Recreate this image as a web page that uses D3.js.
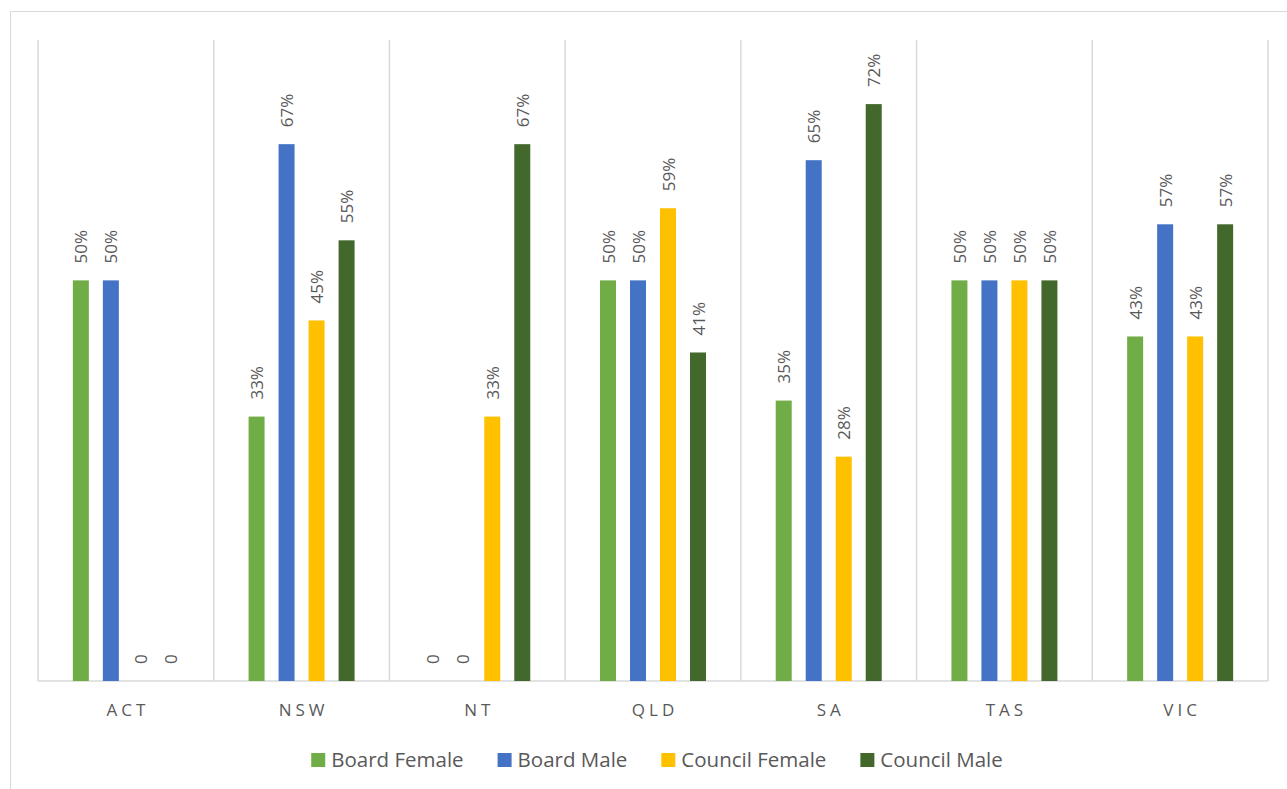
<!DOCTYPE html>
<meta charset="utf-8">

<head>
    <style>
        body {
            margin: 0;
            background: #fff;
        }

        text {
            font-family: "Open Sans", Lato, sans-serif;
            fill: #595959;
        }

        .grid {
            stroke: #d9d9d9;
            stroke-width: 1.5;
        }
    </style>
    <script src="https://d3js.org/d3.v7.min.js"></script>
</head>

<body>
    <script>
        const width = 1287
        const height = 789

        const categories = ["ACT", "NSW", "NT", "QLD", "SA", "TAS", "VIC"]
        const series = ["Board Female", "Board Male", "Council Female", "Council Male"]
        const colors = ["#70ad47", "#4472c4", "#ffc000", "#43682b"]

        const boardFemale = [0.50, 0.33, 0, 0.50, 0.35, 0.50, 0.43]
        const boardMale = [0.50, 0.67, 0, 0.50, 0.65, 0.50, 0.57]
        const councilFemale = [0, 0.45, 0.33, 0.59, 0.28, 0.50, 0.43]
        const councilMale = [0, 0.55, 0.67, 0.41, 0.72, 0.50, 0.57]
        const values = [boardFemale, boardMale, councilFemale, councilMale]

        const plot = { left: 38, right: 1268, top: 40, bottom: 681 }

        const svg = d3.select("body").append("svg")
            .attr("width", width)
            .attr("height", height)

        // chart border
        svg.append("rect")
            .attr("x", 10.5)
            .attr("y", 11.5)
            .attr("width", width)
            .attr("height", height)
            .attr("fill", "none")
            .attr("stroke", "#d9d9d9")

        const xScale = d3.scaleBand()
            .domain(categories)
            .range([plot.left, plot.right])

        const groupWidth = 120
        const inner = d3.scaleBand()
            .domain(series)
            .range([0, groupWidth])
            .paddingInner(14 / 30)
            .paddingOuter(7 / 30)

        const yScale = d3.scaleLinear()
            .domain([0, 0.8])
            .range([plot.bottom, plot.top])

        // vertical separators
        const bounds = categories.map(c => xScale(c)).concat([plot.right])
        svg.selectAll(".sep")
            .data(bounds)
            .enter()
            .append("line")
            .attr("class", "grid")
            .attr("x1", d => d)
            .attr("x2", d => d)
            .attr("y1", plot.top)
            .attr("y2", plot.bottom)

        svg.append("line")
            .attr("class", "grid")
            .attr("x1", plot.left)
            .attr("x2", plot.right)
            .attr("y1", plot.bottom)
            .attr("y2", plot.bottom)

        const rows = []
        categories.forEach((c, i) => {
            series.forEach((s, j) => {
                rows.push({ cat: c, s: s, j: j, v: values[j][i] })
            })
        })

        const barX = d => xScale(d.cat) + (xScale.bandwidth() - groupWidth) / 2 + inner(d.s)

        svg.selectAll(".bar")
            .data(rows.filter(d => d.v > 0))
            .enter()
            .append("rect")
            .attr("x", barX)
            .attr("y", d => yScale(d.v))
            .attr("width", inner.bandwidth())
            .attr("height", d => plot.bottom - yScale(d.v))
            .attr("fill", d => colors[d.j])

        svg.selectAll(".lbl")
            .data(rows)
            .enter()
            .append("text")
            .attr("transform", d => {
                const cx = barX(d) + inner.bandwidth() / 2
                const cy = yScale(d.v) - 17
                return "translate(" + cx + "," + cy + ") rotate(-90)"
            })
            .attr("dominant-baseline", "central")
            .style("font-size", "17px")
            .text(d => d.v > 0 ? Math.round(d.v * 100) + "%" : "0")

        svg.selectAll(".cat")
            .data(categories)
            .enter()
            .append("text")
            .attr("x", d => xScale(d) + xScale.bandwidth() / 2 + 2)
            .attr("y", 716)
            .attr("text-anchor", "middle")
            .style("font-size", "17px")
            .style("letter-spacing", "4px")
            .text(d => d)

        // legend
        const legend = svg.append("g")
        let lx = 0
        series.forEach((s, j) => {
            const g = legend.append("g").attr("transform", "translate(" + lx + ",0)")
            g.append("rect")
                .attr("x", 0)
                .attr("y", 753)
                .attr("width", 14)
                .attr("height", 14)
                .attr("fill", colors[j])
            const t = g.append("text")
                .attr("x", 20)
                .attr("y", 767)
                .style("font-size", "20.5px")
                .text(s)
            lx += 20 + t.node().getComputedTextLength() + 34
        })
        const legendWidth = lx - 34
        legend.attr("transform", "translate(" + ((plot.left + plot.right) / 2 - legendWidth / 2 + 4) + ",0)")
    </script>
</body>
